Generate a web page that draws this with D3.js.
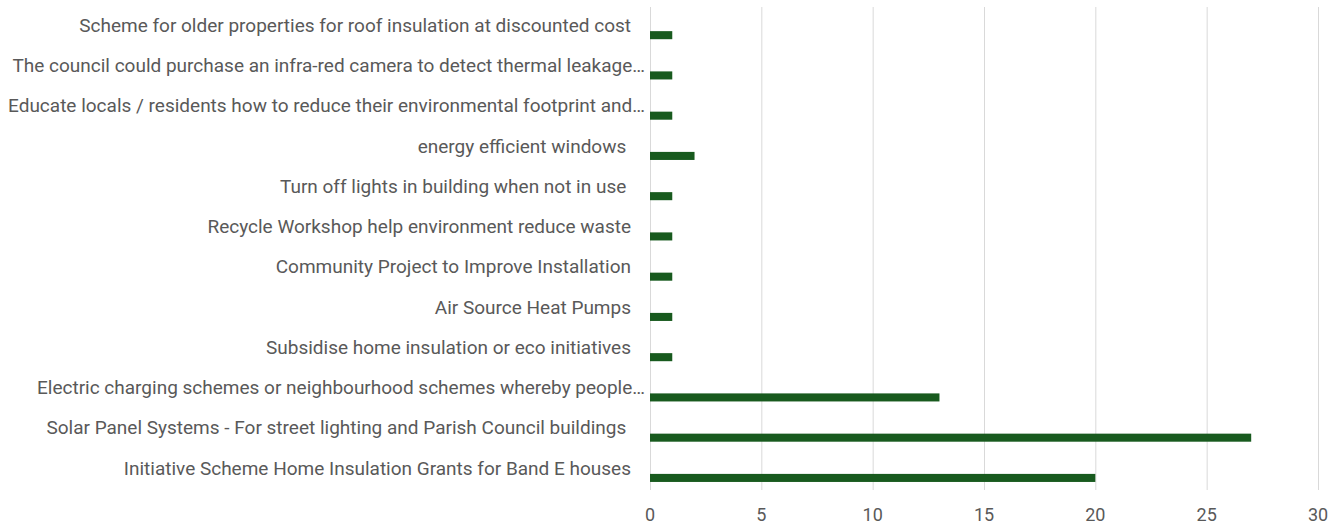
<!DOCTYPE html>
<html>
<head>
<meta charset="utf-8">
<script src="https://cdn.jsdelivr.net/npm/d3@7"></script>
<style>
  body { margin: 0; background: #fff; }
  text { font-family: "Roboto", sans-serif; fill: #595959; }
</style>
</head>
<body>
<script>
    var w = 1343;
    var h = 524;

    // categories, top to bottom
    var categories = [
        "Scheme for older properties for roof insulation at discounted cost",
        "The council could purchase an infra-red camera to detect thermal leakage…",
        "Educate locals / residents how to reduce their environmental footprint and…",
        "energy efficient windows ",
        "Turn off lights in building when not in use ",
        "Recycle Workshop help environment reduce waste",
        "Community Project to Improve Installation",
        "Air Source Heat Pumps",
        "Subsidise home insulation or eco initiatives",
        "Electric charging schemes or neighbourhood schemes whereby people…",
        "Solar Panel Systems - For street lighting and Parish Council buildings ",
        "Initiative Scheme Home Insulation Grants for Band E houses"
    ];
    var counts = [1, 1, 1, 2, 1, 1, 1, 1, 1, 13, 27, 20];
    var xTicks = [0, 5, 10, 15, 20, 25, 30];

    var margin = {top: 7, right: 25, bottom: 34, left: 650};

    var svg = d3.select("body")
                .append("svg")
                .attr("width", w)
                .attr("height", h);

    var xScale = d3.scaleLinear()
        .domain([0, 30])
        .range([margin.left, w - margin.right]);

    var yScale = d3.scaleBand()
        .domain(categories)
        .range([margin.top, h - margin.bottom]);

    // gridlines
    svg.append("g")
        .selectAll("line")
        .data(xTicks)
        .enter()
        .append("line")
        .attr("x1", function(d) { return xScale(d) + 0.5; })
        .attr("x2", function(d) { return xScale(d) + 0.5; })
        .attr("y1", margin.top)
        .attr("y2", h - margin.bottom)
        .attr("stroke", "#d9d9d9")
        .attr("stroke-width", 1);

    // bars sit in the lower part of each band
    var bw = yScale.bandwidth();
    svg.append("g")
        .selectAll("rect")
        .data(counts)
        .enter()
        .append("rect")
        .attr("x", xScale(0))
        .attr("y", function(d, i) { return yScale(categories[i]) + bw * 0.6; })
        .attr("width", function(d) { return xScale(d) - xScale(0); })
        .attr("height", bw * 0.2)
        .attr("fill", "#185a1e");

    // category labels (the cut-off ones run a little further right)
    svg.append("g")
        .selectAll("text")
        .data(categories)
        .enter()
        .append("text")
        .attr("x", function(d) { return d.slice(-1) === "…" ? 645 : 631; })
        .attr("y", function(d) { return yScale(d) + bw * 0.45; })
        .attr("dy", "0.35em")
        .attr("text-anchor", "end")
        .style("white-space", "pre")
        .attr("font-size", 19)
        .text(function(d) { return d; });

    // x tick labels
    svg.append("g")
        .selectAll("text")
        .data(xTicks)
        .enter()
        .append("text")
        .attr("x", function(d) { return xScale(d); })
        .attr("y", 515)
        .attr("dy", "0.35em")
        .attr("text-anchor", "middle")
        .attr("font-size", 18)
        .text(function(d) { return d; });
</script>
</body>
</html>
